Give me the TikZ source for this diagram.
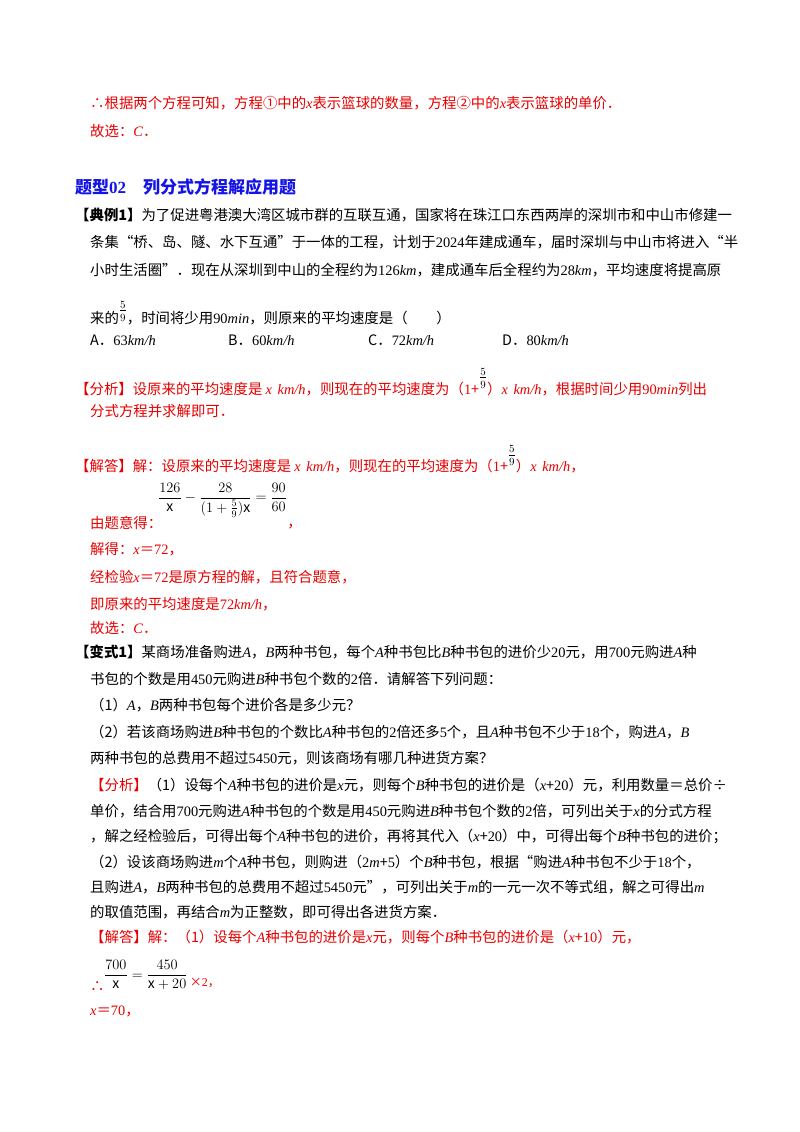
\documentclass[tikz,border=0pt]{standalone}
\usepackage{amsmath}
\usepackage{fontspec}
\setmainfont{Noto Sans CJK SC}
\newfontfamily\lat{Liberation Serif}
\newcommand\vi[1]{{\lat\itshape #1}}
\newcommand\nm[1]{{\lat #1}}
\newcommand\fv{\raisebox{12pt}{\color{black}\fontsize{16}{18}\selectfont$\frac{5}{9}$}}
\definecolor{rd}{RGB}{230,0,0}
\definecolor{bl}{RGB}{20,20,230}
\tikzset{tx/.style={anchor=west,inner sep=0pt,font=\fontsize{14.4}{16}\selectfont},
 r/.style={tx,text=rd}, fr/.style={inner sep=0pt,font=\fontsize{14}{16}\selectfont}}
\begin{document}
\begin{tikzpicture}[x=1pt,y=-1pt]
\useasboundingbox (0,0) rectangle (800,1132);
\node[r] (a1) at (90,103) {∴根据两个方程可知，方程①中的\vi{x}表示篮球的数量，方程②中的\vi{x}表示篮球的单价．};
\node[r] (a2) at (90,131) {故选：\vi{C}．};
\node[tx,text=bl,font=\fontsize{17}{19}\selectfont\bfseries] (h) at (75,187) {题型\nm{02}\quad 列分式方程解应用题};
\node[tx] (b1) at (75,215) {\textbf{【典例1】}为了促进粤港澳大湾区城市群的互联互通，国家将在珠江口东西两岸的深圳市和中山市修建一};
\node[tx] (b2) at (90,242) {条集“桥、岛、隧、水下互通”于一体的工程，计划于\nm{2024}年建成通车，届时深圳与中山市将进入“半};
\node[tx] (b3) at (90,270) {小时生活圈”．现在从深圳到中山的全程约为\nm{126}\vi{km}，建成通车后全程约为\nm{28}\vi{km}，平均速度将提高原};
\node[tx] (b4) at (90,313) {来的\raisebox{8pt}{\fontsize{16}{18}\selectfont$\frac{5}{9}$}，时间将少用\nm{90}\vi{min}，则原来的平均速度是（\qquad ）};
\node[tx] (o1) at (90,340) {A．\nm{63}\vi{km/h}};
\node[tx] (o2) at (228,340) {B．\nm{60}\vi{km/h}};
\node[tx] (o3) at (368,340) {C．\nm{72}\vi{km/h}};
\node[tx] (o4) at (502,340) {D．\nm{80}\vi{km/h}};
\node[r] (c1) at (75,382) {【分析】设原来的平均速度是 \vi{x}\, \vi{km/h}，则现在的平均速度为（\nm{1}+\fv）\vi{x}\, \vi{km/h}，根据时间少用\nm{90}\vi{min}列出};
\node[r] (c2) at (90,411) {分式方程并求解即可．};
\node[r] (d1) at (75,459) {【解答】解：设原来的平均速度是 \vi{x}\, \vi{km/h}，则现在的平均速度为（\nm{1}+\fv）\vi{x}\, \vi{km/h}，};
\node[fr,anchor=west] (eq1) at (158,500) {$\dfrac{126}{\mathrm{x}}-\dfrac{28}{(1+\frac{5}{9})\mathrm{x}}=\dfrac{90}{60}$};
\node[r] (d2) at (90,523) {由题意得：};
\node[r,anchor=west] (d2b) at (eq1.east|-0,527) {，};
\node[r] (d3) at (90,549) {解得：\vi{x}＝\nm{72}，};
\node[r] (d4) at (90,577) {经检验\vi{x}＝\nm{72}是原方程的解，且符合题意，};
\node[r] (d5) at (90,604) {即原来的平均速度是\nm{72}\vi{km/h}，};
\node[r] (d6) at (90,628) {故选：\vi{C}．};
\node[tx] (e1) at (75,652) {\textbf{【变式1】}某商场准备购进\vi{A}，\vi{B}两种书包，每个\vi{A}种书包比\vi{B}种书包的进价少\nm{20}元，用\nm{700}元购进\vi{A}种};
\node[tx] (e2) at (90,679) {书包的个数是用\nm{450}元购进\vi{B}种书包个数的\nm{2}倍．请解答下列问题：};
\node[tx] (e3) at (90,705) {（1）\vi{A}，\vi{B}两种书包每个进价各是多少元？};
\node[tx] (e4) at (90,732) {（2）若该商场购进\vi{B}种书包的个数比\vi{A}种书包的\nm{2}倍还多\nm{5}个，且\vi{A}种书包不少于\nm{18}个，购进\vi{A}，\vi{B}};
\node[tx] (e5) at (90,758) {两种书包的总费用不超过\nm{5450}元，则该商场有哪几种进货方案？};
\node[tx] (f1) at (90,785) {\textcolor{rd}{【分析】}（1）设每个\vi{A}种书包的进价是\vi{x}元，则每个\vi{B}种书包的进价是（\vi{x}+\nm{20}）元，利用数量＝总价÷};
\node[tx] (f2) at (90,811) {单价，结合用\nm{700}元购进\vi{A}种书包的个数是用\nm{450}元购进\vi{B}种书包个数的\nm{2}倍，可列出关于\vi{x}的分式方程};
\node[tx] (f3) at (90,836) {，解之经检验后，可得出每个\vi{A}种书包的进价，再将其代入（\vi{x}+\nm{20}）中，可得出每个\vi{B}种书包的进价；};
\node[tx] (f4) at (90,862) {（2）设该商场购进\vi{m}个\vi{A}种书包，则购进（\nm{2}\vi{m}+\nm{5}）个\vi{B}种书包，根据“购进\vi{A}种书包不少于\nm{18}个，};
\node[tx] (f5) at (90,887) {且购进\vi{A}，\vi{B}两种书包的总费用不超过\nm{5450}元”，可列出关于\vi{m}的一元一次不等式组，解之可得出\vi{m}};
\node[tx] (f6) at (90,912) {的取值范围，再结合\vi{m}为正整数，即可得出各进货方案．};
\node[r] (g1) at (90,937) {【解答】解：（1）设每个\vi{A}种书包的进价是\vi{x}元，则每个\vi{B}种书包的进价是（\vi{x}+\nm{10}）元，};
\node[r] (g2) at (90,987) {∴};
\node[fr,anchor=west] (eq2) at (104,975) {$\dfrac{700}{\mathrm{x}}=\dfrac{450}{\mathrm{x}+20}$};
\node[r,anchor=west,font=\fontsize{12}{14}\selectfont] (g2b) at (eq2.east|-0,983) {\,×\nm{2}，};
\node[r] (g3) at (90,1011) {\vi{x}＝\nm{70}，};
\end{tikzpicture}
\end{document}
